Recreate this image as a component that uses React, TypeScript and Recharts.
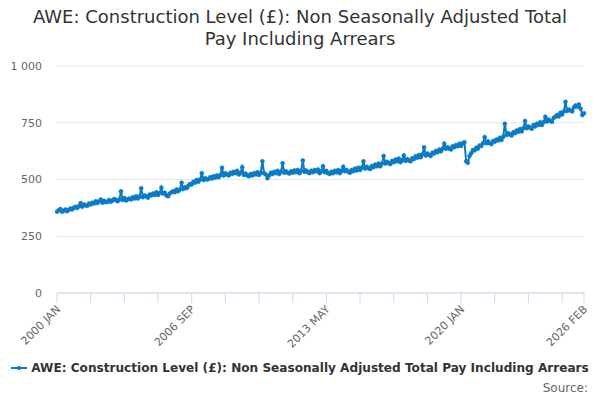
import { LineChart, Line, XAxis, YAxis, CartesianGrid } from "recharts";

const startYear = 2000;
const monthNames = ["JAN", "FEB", "MAR", "APR", "MAY", "JUN", "JUL", "AUG", "SEP", "OCT", "NOV", "DEC"];

// AWE, £ per week, one row per year (Jan..Dec), last row ends at Feb 2026
const awe: number[] = [
  358, 364, 370, 358, 362, 368, 360, 366, 372, 368, 376, 380,
  374, 382, 396, 380, 390, 386, 384, 394, 390, 398, 394, 404,
  396, 404, 412, 398, 406, 400, 402, 410, 402, 408, 414, 410,
  404, 412, 448, 410, 418, 408, 412, 416, 412, 422, 416, 426,
  416, 424, 462, 422, 430, 426, 420, 434, 430, 438, 432, 444,
  432, 440, 464, 438, 442, 430, 426, 438, 444, 448, 444, 456,
  448, 456, 486, 458, 466, 462, 472, 480, 478, 490, 486, 498,
  490, 500, 528, 498, 506, 500, 502, 510, 504, 514, 508, 518,
  510, 520, 552, 518, 528, 522, 518, 530, 524, 534, 528, 538,
  522, 530, 554, 520, 526, 518, 514, 524, 518, 528, 522, 532,
  520, 530, 580, 528, 522, 506, 518, 530, 524, 534, 528, 538,
  524, 534, 572, 530, 536, 530, 526, 536, 530, 540, 532, 542,
  528, 538, 584, 534, 540, 532, 528, 538, 532, 542, 536, 544,
  528, 536, 558, 532, 538, 528, 524, 534, 528, 538, 532, 542,
  528, 538, 556, 536, 542, 534, 530, 542, 536, 548, 540, 552,
  542, 552, 580, 548, 556, 550, 546, 560, 554, 566, 558, 570,
  558, 570, 604, 570, 578, 572, 568, 582, 576, 588, 580, 592,
  576, 586, 606, 582, 590, 584, 580, 594, 590, 602, 596, 608,
  598, 610, 642, 606, 614, 608, 604, 618, 614, 626, 620, 632,
  624, 636, 658, 636, 642, 636, 632, 646, 642, 652, 646, 658,
  648, 660, 664, 580, 574, 604, 616, 630, 628, 640, 636, 650,
  648, 660, 686, 660, 668, 660, 656, 670, 666, 676, 672, 684,
  674, 688, 746, 696, 704, 698, 694, 708, 704, 716, 710, 722,
  712, 726, 758, 726, 734, 728, 724, 740, 734, 746, 740, 752,
  740, 752, 776, 756, 764, 758, 754, 772, 776, 784, 778, 794,
  786, 800, 842, 802, 808, 804, 800, 818, 826, 820, 830, 812,
  784, 792,
];

const yTicks = [0, 250, 500, 750, 1000];
const labelledMonths = [0, 80, 160, 240, 313];

const BLUE = "#0a7bc4";
const FONT = "'DejaVu Sans', sans-serif";

const monthLabel = (i: number) =>
  `${startYear + Math.floor(i / 12)} ${monthNames[i % 12]}`;

const data = awe.map((v, i) => ({ i, label: monthLabel(i), v }));
const lastIndex = awe.length - 1;
const xTicks = [...Array.from({ length: Math.floor(lastIndex / 20) + 1 }, (_, k) => k * 20), lastIndex];

const fmtThousands = (v: number) => String(v).replace(/\B(?=(\d{3})+(?!\d))/g, " ");

const XTick = ({ x, y, payload }: any) => {
  if (!labelledMonths.includes(payload.value)) return null;
  const tx = x + 4;
  const ty = y + 5;
  return (
    <text x={tx} y={ty} transform={`rotate(-45 ${tx} ${ty})`} textAnchor="end" fontSize={11} fill="#666666" fontFamily={FONT}>
      {monthLabel(payload.value)}
    </text>
  );
};

export default function App() {
  return (
    <div style={{ position: "relative", width: 600, height: 400, fontFamily: FONT, margin: -8, overflow: "hidden" }}>
      <div style={{ position: "absolute", top: 6, left: 0, width: 600, textAlign: "center", fontSize: 18, lineHeight: "22px", color: "#333333" }}>
        AWE: Construction Level (£): Non Seasonally Adjusted Total
        <br />
        Pay Including Arrears
      </div>
      <div style={{ position: "absolute", top: 0, left: 0 }}>
        <LineChart width={600} height={400} data={data} margin={{ top: 66, right: 16, bottom: 47, left: 12 }}>
          <CartesianGrid vertical={false} stroke="#e6e6e6" />
          <XAxis
            dataKey="i"
            type="number"
            domain={[0, lastIndex]}
            ticks={xTicks}
            height={60}
            stroke="#ccd6eb"
            tickSize={10}
            tickMargin={2}
            tick={<XTick />}
            interval={0}
          />
          <YAxis
            domain={[0, 1000]}
            ticks={yTicks}
            width={45}
            axisLine={false}
            tickLine={false}
            tickSize={0}
            tickMargin={15}
            tickFormatter={fmtThousands}
            tick={{ fontSize: 11, fill: "#666666", fontFamily: FONT }}
          />
          <Line
            dataKey="v"
            stroke={BLUE}
            strokeWidth={2}
            dot={{ r: 2, fill: BLUE, stroke: BLUE, strokeWidth: 0.5 }}
            isAnimationActive={false}
          />
        </LineChart>
      </div>
      <div style={{ position: "absolute", top: 361, left: 0, width: 600, display: "flex", justifyContent: "center", alignItems: "center", whiteSpace: "nowrap", fontSize: 12.1, fontWeight: "bold", color: "#333333" }}>
        <svg width={16} height={10} style={{ marginRight: 4, flexShrink: 0 }}>
          <line x1={0} y1={5} x2={16} y2={5} stroke={BLUE} strokeWidth={2} />
          <circle cx={8} cy={5} r={2} fill={BLUE} />
        </svg>
        AWE: Construction Level (£): Non Seasonally Adjusted Total Pay Including Arrears
      </div>
      <div style={{ position: "absolute", top: 381, right: 12, fontSize: 12, color: "#666666" }}>Source:</div>
    </div>
  );
}
